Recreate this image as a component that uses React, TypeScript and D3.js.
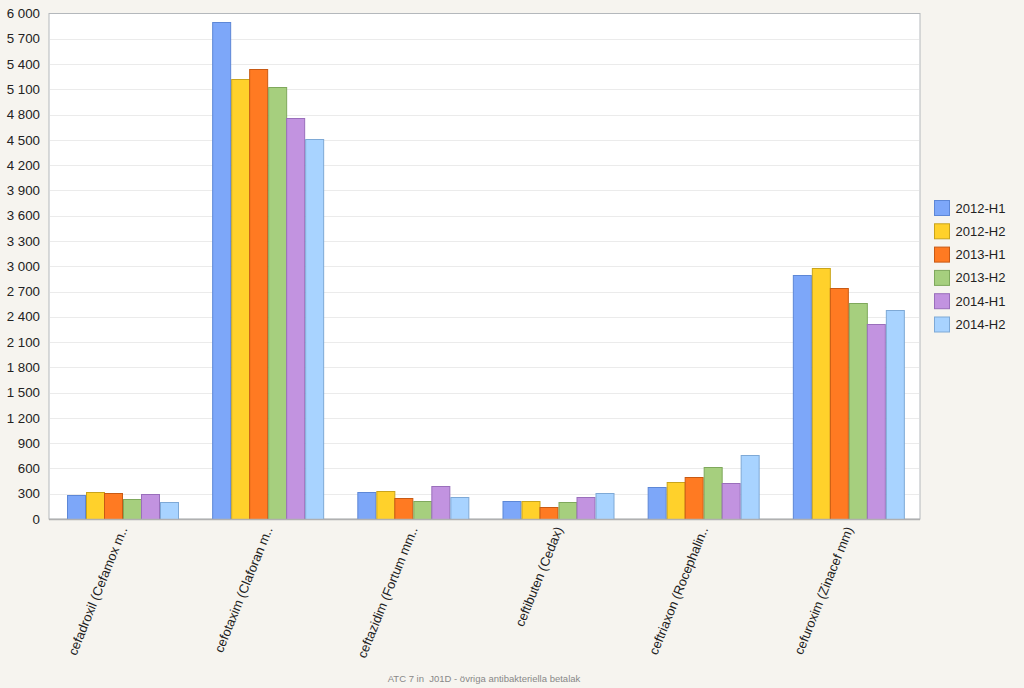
import React, { useRef, useEffect } from 'react';
import * as d3 from 'd3';

const categories = [
  'cefadroxil (Cefamox m..',
  'cefotaxim (Claforan m..',
  'ceftazidim (Fortum mm..',
  'ceftibuten (Cedax)',
  'ceftriaxon (Rocephalin..',
  'cefuroxim (Zinacef mm)',
];
const series = ['2012-H1', '2012-H2', '2013-H1', '2013-H2', '2014-H1', '2014-H2'];
// values[series][category]
const v2012H1 = [285, 5895, 320, 217, 376, 2900];
const v2012H2 = [317, 5220, 336, 217, 439, 2976];
const v2013H1 = [305, 5340, 249, 142, 499, 2742];
const v2013H2 = [234, 5125, 217, 205, 614, 2568];
const v2014H1 = [293, 4765, 392, 257, 431, 2315];
const v2014H2 = [198, 4510, 257, 305, 763, 2477];
const values = [v2012H1, v2012H2, v2013H1, v2013H2, v2014H1, v2014H2];
const fills = ['#7da7f9', '#ffd12b', '#ff7a22', '#a6cf7e', '#c293e0', '#a8d3ff'];
const strokes = ['#5d87d6', '#c9a41c', '#c85a14', '#7fa85c', '#9a6fbb', '#7ea9d6'];
const yTicks = d3.range(0, 6001, 300);
const footer = 'ATC 7 in  J01D - övriga antibakteriella betalak';

const App = () => {
  const ref = useRef<SVGSVGElement>(null);

  useEffect(() => {
    const W = 1024, H = 688;
    const m = { left: 49, top: 13.5, right: 104, bottom: 169 };
    const svg = d3.select(ref.current);
    svg.selectAll('*').remove();
    svg.attr('width', W).attr('height', H).style('font-family', 'Liberation Sans, Arial, sans-serif');

    svg.append('rect').attr('width', W).attr('height', H).attr('fill', '#f6f4ef');

    const x0 = d3.scaleBand().domain(categories).range([m.left, W - m.right]);
    const x1 = d3.scaleBand().domain(series).range([0, x0.bandwidth()]).paddingOuter(0.93);
    const y = d3.scaleLinear().domain([0, 6000]).range([H - m.bottom, m.top]);

    svg.append('rect')
      .attr('x', m.left).attr('y', m.top)
      .attr('width', W - m.right - m.left).attr('height', H - m.bottom - m.top)
      .attr('fill', '#ffffff').attr('stroke', '#b4b8bc');

    // grid
    svg.append('g').selectAll('line').data(yTicks.slice(1, -1)).enter().append('line')
      .attr('x1', m.left + 1).attr('x2', W - m.right - 1)
      .attr('y1', d => Math.round(y(d)) + 0.5).attr('y2', d => Math.round(y(d)) + 0.5)
      .attr('stroke', '#ebebeb');

    // y labels
    const fmt = (d: number) => d3.format(',')(d).replace(',', ' ');
    svg.append('g').selectAll('text').data(yTicks).enter().append('text')
      .attr('x', 40).attr('y', d => y(d)).attr('dy', '0.35em')
      .attr('text-anchor', 'end').attr('font-size', 13.3).attr('fill', '#222')
      .text(d => fmt(d));

    // bars
    const groups = svg.append('g').selectAll('g').data(categories).enter().append('g')
      .attr('transform', d => `translate(${x0(d)! + 1},0)`);
    groups.selectAll('rect').data((c, ci) => series.map((s, si) => ({ s, si, v: values[si][ci] })))
      .enter().append('rect')
      .attr('x', d => Math.round(x1(d.s)!) + 0.5)
      .attr('y', d => Math.round(y(d.v)) + 0.5)
      .attr('width', Math.round(x1.bandwidth()))
      .attr('height', d => Math.round(y(0)) - Math.round(y(d.v)))
      .attr('fill', d => fills[d.si])
      .attr('stroke', d => strokes[d.si]);

    // bottom axis line
    svg.append('line')
      .attr('x1', m.left).attr('x2', W - m.right)
      .attr('y1', y(0) + 0.5).attr('y2', y(0) + 0.5)
      .attr('stroke', '#b0b0b0').attr('stroke-width', 1.5);

    // x labels
    svg.append('g').selectAll('text').data(categories).enter().append('text')
      .attr('transform', d => `translate(${x0(d)! + x0.bandwidth() / 2 + 6},${y(0) + 10}) rotate(-68)`)
      .attr('text-anchor', 'end').attr('font-size', 13).attr('fill', '#222')
      .text(d => d);

    // legend
    const lg = svg.append('g').selectAll('g').data(series).enter().append('g')
      .attr('transform', (d, i) => `translate(934.5,${200.5 + i * 23.3})`);
    lg.append('rect').attr('width', 15).attr('height', 15)
      .attr('fill', (d, i) => fills[i]).attr('stroke', (d, i) => strokes[i]);
    lg.append('text').attr('x', 21).attr('y', 7.5).attr('dy', '0.35em')
      .attr('font-size', 13).attr('fill', '#222').text(d => d);

    svg.append('text')
      .attr('x', 484).attr('y', 682).attr('text-anchor', 'middle')
      .style('white-space', 'pre')
      .attr('font-size', 9.5).attr('fill', '#888').text(footer);
  }, []);

  return <svg ref={ref} style={{ position: 'absolute', left: 0, top: 0 }}></svg>;
};

export default App;
